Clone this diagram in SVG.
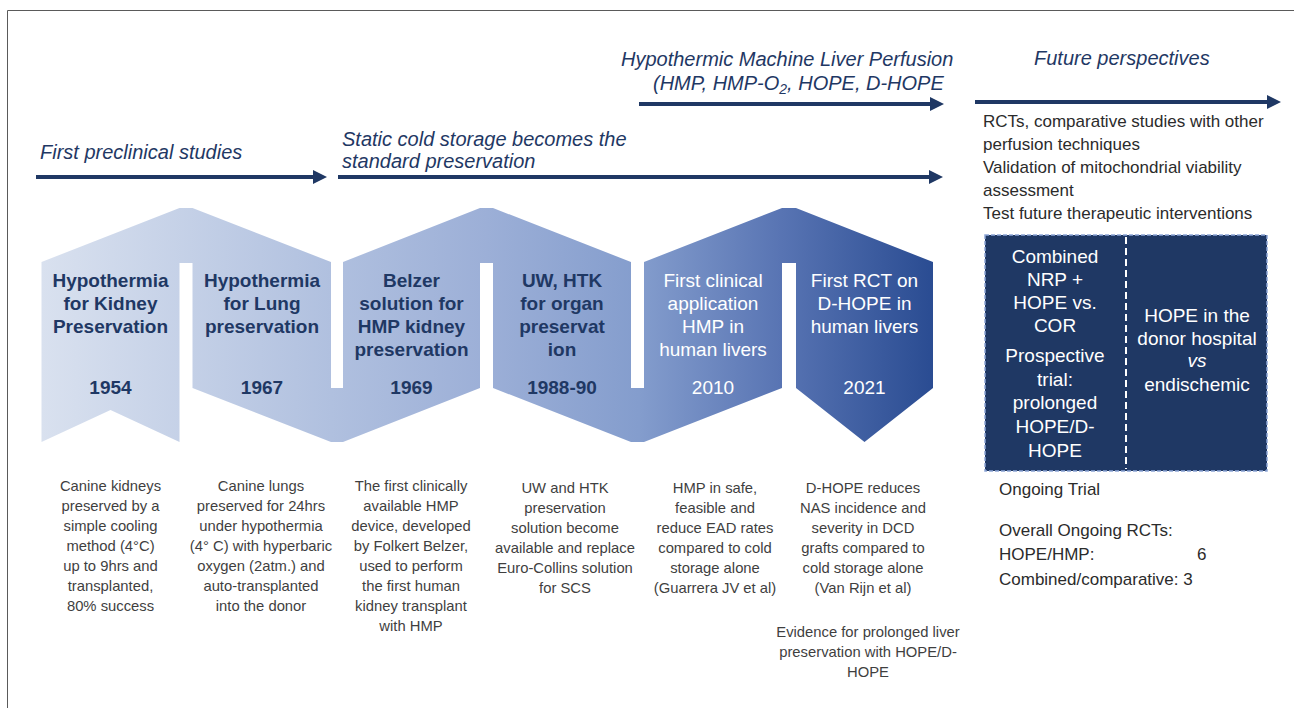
<svg xmlns="http://www.w3.org/2000/svg" width="1294" height="708" viewBox="0 0 1294 708">
<defs>
<linearGradient id="rib" gradientUnits="userSpaceOnUse" x1="41" y1="0" x2="933" y2="0">
<stop offset="0" stop-color="#d9e1ef"/>
<stop offset="0.325" stop-color="#b0c0df"/>
<stop offset="0.5" stop-color="#9cafd7"/>
<stop offset="0.67" stop-color="#849dcd"/>
<stop offset="0.83" stop-color="#5874b3"/>
<stop offset="1" stop-color="#2a4c92"/>
</linearGradient>
<marker id="arr" markerUnits="userSpaceOnUse" markerWidth="14" markerHeight="14" viewBox="0 0 14 14" refX="0" refY="7" orient="auto">
<path d="M0,0 L14,7 L0,14 Z" fill="#1f3864"/>
</marker>
<style>
.hdr{font-family:"Liberation Sans",Arial,sans-serif;font-style:italic;font-size:20px;fill:#1f3864}
.ttl{font-family:"Liberation Sans",Arial,sans-serif;font-weight:bold;font-size:19px;fill:#1f3864;text-anchor:middle}
.ttlw{font-family:"Liberation Sans",Arial,sans-serif;font-size:19px;fill:#ffffff;text-anchor:middle}
.desc{font-family:"Liberation Sans",Arial,sans-serif;font-size:14.8px;fill:#3f3f3f;text-anchor:middle}
.side{font-family:"Liberation Sans",Arial,sans-serif;font-size:17px;fill:#2b2b2b}
.box{font-family:"Liberation Sans",Arial,sans-serif;font-size:19px;fill:#ffffff;text-anchor:middle}
.seg{fill:url(#rib)}
.conn{stroke:#1f3864;stroke-width:4;fill:none}
</style>
</defs>
<rect width="1294" height="708" fill="#ffffff"/>
<path d="M7.5,708 L7.5,10.5 L1294,10.5" fill="none" stroke="#5a5a5a" stroke-width="1"/>

<g id="connectors">
<line class="conn" x1="36" y1="177" x2="313" y2="177" marker-end="url(#arr)"/>
<line class="conn" x1="338" y1="177" x2="929" y2="177" marker-end="url(#arr)"/>
<line class="conn" x1="639" y1="104" x2="930" y2="104" marker-end="url(#arr)"/>
<line class="conn" x1="975" y1="102" x2="1267" y2="102" marker-end="url(#arr)"/>
</g>

<g id="headers">
<text class="hdr" x="40" y="159">First preclinical studies</text>
<text class="hdr" x="342" y="146">Static cold storage becomes the</text>
<text class="hdr" x="342" y="168">standard preservation</text>
<text class="hdr" x="621" y="66">Hypothermic Machine Liver Perfusion</text>
<text class="hdr" x="653" y="90">(HMP, HMP-O<tspan font-size="14" dy="4">2</tspan><tspan dy="-4">, HOPE, D-HOPE</tspan></text>
<text class="hdr" x="1034" y="65">Future perspectives</text>
</g>

<g id="node-1954">
<path class="seg" d="M41.5,262 L179.5,208 L187.5,208 L187.5,263 L179.5,263 L179.5,442 L110.5,410 L41.5,442 Z"/>
<text class="ttl"><tspan x="110.5" y="287">Hypothermia</tspan><tspan x="110.5" y="310">for Kidney</tspan><tspan x="110.5" y="333">Preservation</tspan><tspan x="110.5" y="394">1954</tspan></text>
<text class="desc"><tspan x="110.5" y="491">Canine kidneys</tspan><tspan x="110.5" dy="20">preserved by a</tspan><tspan x="110.5" dy="20">simple cooling</tspan><tspan x="110.5" dy="20">method (4°C)</tspan><tspan x="110.5" dy="20">up to 9hrs and</tspan><tspan x="110.5" dy="20">transplanted,</tspan><tspan x="110.5" dy="20">80% success</tspan></text>
</g>

<g id="node-1967">
<path class="seg" d="M185,208 L192.5,208 L331,262 L331,388 L338,388 L338,442 L331,442 L192.5,388 L192.5,263 L185,263 Z"/>
<text class="ttl"><tspan x="262" y="287">Hypothermia</tspan><tspan x="262" y="310">for Lung</tspan><tspan x="262" y="333">preservation</tspan><tspan x="262" y="394">1967</tspan></text>
<text class="desc"><tspan x="261" y="491">Canine lungs</tspan><tspan x="261" dy="20">preserved for 24hrs</tspan><tspan x="261" dy="20">under hypothermia</tspan><tspan x="261" dy="20">(4° C) with hyperbaric</tspan><tspan x="261" dy="20">oxygen (2atm.) and</tspan><tspan x="261" dy="20">auto-transplanted</tspan><tspan x="261" dy="20">into the donor</tspan></text>
</g>

<g id="node-1969">
<path class="seg" d="M336,388 L343,388 L343,262 L480,208 L488,208 L488,263 L480,263 L480,388 L343,442 L336,442 Z"/>
<text class="ttl"><tspan x="411.5" y="287">Belzer</tspan><tspan x="411.5" y="310">solution for</tspan><tspan x="411.5" y="333">HMP kidney</tspan><tspan x="411.5" y="356">preservation</tspan><tspan x="411.5" y="394">1969</tspan></text>
<text class="desc"><tspan x="411" y="491">The first clinically</tspan><tspan x="411" dy="20">available HMP</tspan><tspan x="411" dy="20">device, developed</tspan><tspan x="411" dy="20">by Folkert Belzer,</tspan><tspan x="411" dy="20">used to perform</tspan><tspan x="411" dy="20">the first human</tspan><tspan x="411" dy="20">kidney transplant</tspan><tspan x="411" dy="20">with HMP</tspan></text>
</g>

<g id="node-1988">
<path class="seg" d="M486,208 L493,208 L631,262 L631,388 L639,388 L639,442 L631,442 L493,388 L493,263 L486,263 Z"/>
<text class="ttl"><tspan x="562" y="287">UW, HTK</tspan><tspan x="562" y="310">for organ</tspan><tspan x="562" y="333">preservat</tspan><tspan x="562" y="356">ion</tspan><tspan x="562" y="394">1988-90</tspan></text>
<text class="desc"><tspan x="565" y="493">UW and HTK</tspan><tspan x="565" dy="20">preservation</tspan><tspan x="565" dy="20">solution become</tspan><tspan x="565" dy="20">available and replace</tspan><tspan x="565" dy="20">Euro-Collins solution</tspan><tspan x="565" dy="20">for SCS</tspan></text>
</g>

<g id="node-2010">
<path class="seg" d="M637,388 L644,388 L644,262 L782,208 L790,208 L790,263 L782,263 L782,388 L644,442 L637,442 Z"/>
<text class="ttlw"><tspan x="713" y="287">First clinical</tspan><tspan x="713" y="310">application</tspan><tspan x="713" y="333">HMP in</tspan><tspan x="713" y="356">human livers</tspan><tspan x="713" y="394">2010</tspan></text>
<text class="desc"><tspan x="715" y="493">HMP in safe,</tspan><tspan x="715" dy="20">feasible and</tspan><tspan x="715" dy="20">reduce EAD rates</tspan><tspan x="715" dy="20">compared to cold</tspan><tspan x="715" dy="20">storage alone</tspan><tspan x="715" dy="20">(Guarrera JV et al)</tspan></text>
</g>

<g id="node-2021">
<path class="seg" d="M788,208 L796,208 L933,262 L933,388 L864.5,442 L796,388 L796,263 L788,263 Z"/>
<text class="ttlw"><tspan x="864.5" y="287">First RCT on</tspan><tspan x="864.5" y="310">D-HOPE in</tspan><tspan x="864.5" y="333">human livers</tspan><tspan x="864.5" y="394">2021</tspan></text>
<text class="desc"><tspan x="863" y="493">D-HOPE reduces</tspan><tspan x="863" dy="20">NAS incidence and</tspan><tspan x="863" dy="20">severity in DCD</tspan><tspan x="863" dy="20">grafts compared to</tspan><tspan x="863" dy="20">cold storage alone</tspan><tspan x="863" dy="20">(Van Rijn et al)</tspan></text>
<text class="desc"><tspan x="868" y="637">Evidence for prolonged liver</tspan><tspan x="868" dy="20">preservation with HOPE/D-</tspan><tspan x="868" dy="20">HOPE</tspan></text>
</g>

<g id="node-future">
<text class="side"><tspan x="983" y="127">RCTs, comparative studies with other</tspan><tspan x="983" dy="23">perfusion techniques</tspan><tspan x="983" dy="23">Validation of mitochondrial viability</tspan><tspan x="983" dy="23">assessment</tspan><tspan x="983" dy="23">Test future therapeutic interventions</tspan></text>
</g>

<g id="node-trials">
<rect x="985" y="235" width="282" height="236" fill="#1f3864" stroke="#8ea6d6" stroke-width="1.5" stroke-dasharray="4 2"/>
<line x1="1126" y1="237" x2="1126" y2="469" stroke="#ffffff" stroke-width="2" stroke-dasharray="7 4"/>
<text class="box"><tspan x="1055" y="263">Combined</tspan><tspan x="1055" dy="23">NRP +</tspan><tspan x="1055" dy="23">HOPE vs.</tspan><tspan x="1055" dy="23">COR</tspan><tspan x="1055" y="362">Prospective</tspan><tspan x="1055" dy="23.5">trial:</tspan><tspan x="1055" dy="23.5">prolonged</tspan><tspan x="1055" dy="24">HOPE/D-</tspan><tspan x="1055" dy="24">HOPE</tspan></text>
<text class="box"><tspan x="1197" y="322">HOPE in the</tspan><tspan x="1197" dy="23">donor hospital</tspan><tspan x="1197" dy="22" font-style="italic">vs</tspan><tspan x="1197" dy="24">endischemic</tspan></text>
<text class="side" x="999" y="495">Ongoing Trial</text>
<text class="side"><tspan x="999" y="536">Overall Ongoing RCTs:</tspan><tspan x="999" y="560">HOPE/HMP:</tspan><tspan x="1197" y="560">6</tspan><tspan x="999" y="585">Combined/comparative: 3</tspan></text>
</g>
</svg>
